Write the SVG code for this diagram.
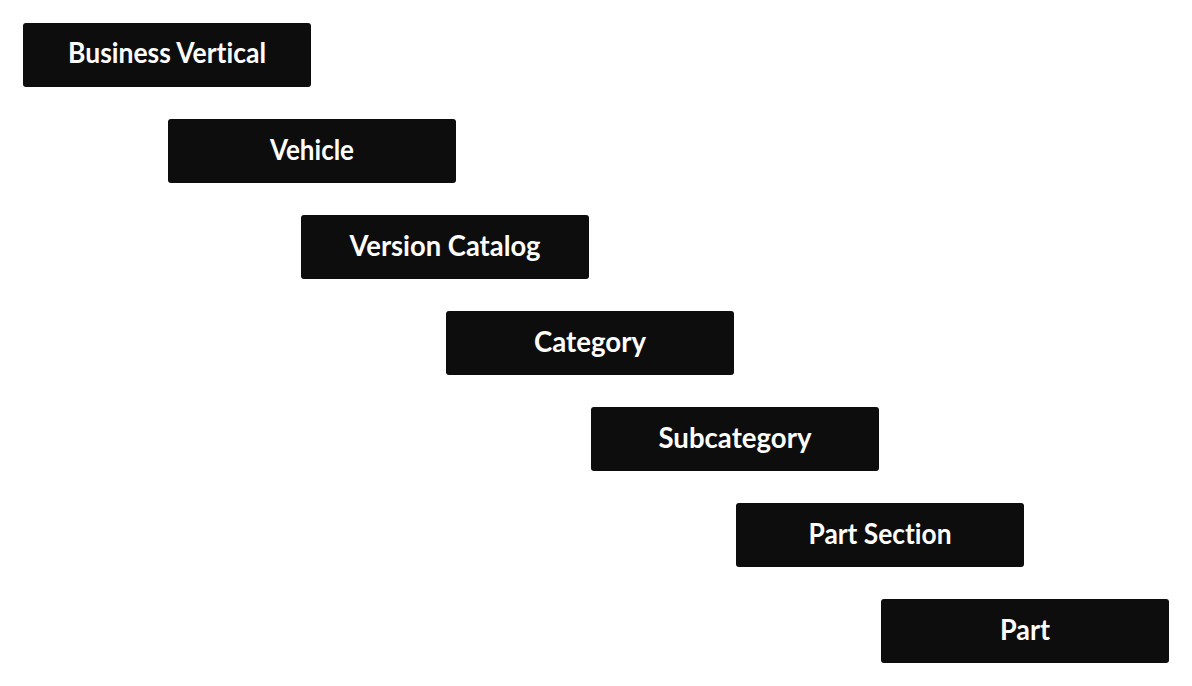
<svg xmlns="http://www.w3.org/2000/svg" width="1192" height="686" viewBox="0 0 1192 686">
<style>
.box{fill:#0d0d0d;}
.lbl{fill:#ffffff;font-family:"Lato","Noto Sans",sans-serif;font-weight:700;font-size:29px;text-anchor:middle;font-variant-ligatures:none;font-feature-settings:"liga" 0,"clig" 0,"dlig" 0;}
</style>
<rect width="1192" height="686" fill="#ffffff"/>
<g id="connectors"></g>
<g id="node-business-vertical">
<rect class="box" x="23" y="23" width="288" height="64" rx="3"/>
<text class="lbl" x="167" y="63" textLength="198" lengthAdjust="spacingAndGlyphs">Business Vertical</text>
</g>
<g id="node-vehicle">
<rect class="box" x="168" y="119" width="288" height="64" rx="3"/>
<text class="lbl" x="312" y="160" textLength="84" lengthAdjust="spacingAndGlyphs">Vehicle</text>
</g>
<g id="node-version-catalog">
<rect class="box" x="301" y="215" width="288" height="64" rx="3"/>
<text class="lbl" x="445" y="256" textLength="191" lengthAdjust="spacingAndGlyphs">Version Catalog</text>
</g>
<g id="node-category">
<rect class="box" x="446" y="311" width="288" height="64" rx="3"/>
<text class="lbl" x="590" y="352" textLength="112" lengthAdjust="spacingAndGlyphs">Category</text>
</g>
<g id="node-subcategory">
<rect class="box" x="591" y="407" width="288" height="64" rx="3"/>
<text class="lbl" x="735" y="448" textLength="153" lengthAdjust="spacingAndGlyphs">Subcategory</text>
</g>
<g id="node-part-section">
<rect class="box" x="736" y="503" width="288" height="64" rx="3"/>
<text class="lbl" x="880" y="544" textLength="143" lengthAdjust="spacingAndGlyphs">Part Section</text>
</g>
<g id="node-part">
<rect class="box" x="881" y="599" width="288" height="64" rx="3"/>
<text class="lbl" x="1025" y="640" textLength="50" lengthAdjust="spacingAndGlyphs">Part</text>
</g>
</svg>
